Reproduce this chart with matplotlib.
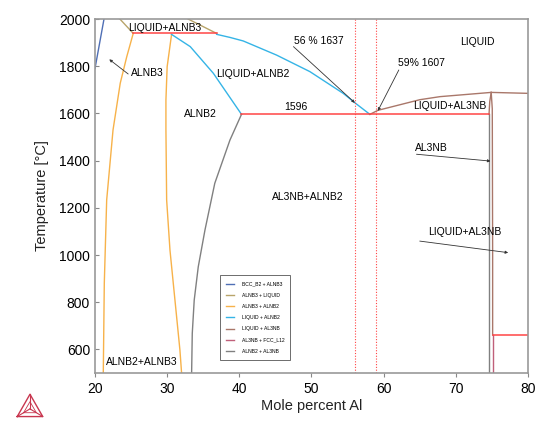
"""Al-Nb phase diagram (Al-rich side), redrawn from a Thermo-Calc export."""
import matplotlib
matplotlib.use("Agg")
import matplotlib.pyplot as plt

plt.rcParams["font.family"] = ["Liberation Sans", "DejaVu Sans"]

# phase boundaries, (mole percent Al, temperature in C)
bcc_alnb3_x = [20.0, 21.25]
bcc_alnb3_y = [1790, 2000]

alnb3_liq_left_x = [23.45, 25.3]
alnb3_liq_left_y = [2000, 1939]
alnb3_liq_right_x = [32.9, 36.85]
alnb3_liq_right_y = [2000, 1939]

alnb3_alnb2_left_x = [25.3, 24.4, 23.5, 22.5, 21.62, 21.29, 21.15]
alnb3_alnb2_left_y = [1939, 1840, 1728, 1530, 1233, 880, 500]
alnb3_alnb2_right_x = [30.6, 30.0, 29.83, 29.83, 29.93, 30.39, 31.08, 31.77, 32.0]
alnb3_alnb2_right_y = [1932, 1798, 1657, 1530, 1233, 1021, 809, 597, 500]

liq_alnb2_solid_x = [30.6, 33.2, 36.4, 40.3]
liq_alnb2_solid_y = [1935, 1883, 1770, 1596]
liq_alnb2_liquidus_x = [36.86, 38.7, 40.54, 45.17, 49.78, 54.39, 56.1, 58.09]
liq_alnb2_liquidus_y = [1935, 1922, 1907, 1847, 1777, 1685, 1643, 1596]

liq_al3nb_x = [58.09, 59.2, 65.0, 67.8, 74.9, 80.0]
liq_al3nb_y = [1596, 1613, 1658, 1671, 1689, 1685]
liq_al3nb_left_x = [74.9, 74.7, 74.6]
liq_al3nb_left_y = [1689, 1650, 1596]
liq_al3nb_right_x = [74.9, 75.05, 75.1, 75.1]
liq_al3nb_right_y = [1689, 1620, 1000, 661]

al3nb_fcc_x = [75.1, 75.1]
al3nb_fcc_y = [661, 500]

alnb2_al3nb_left_x = [40.3, 38.7, 36.6, 35.24, 34.31, 33.75, 33.48, 33.39]
alnb2_al3nb_left_y = [1596, 1487, 1304, 1106, 950, 809, 668, 500]
alnb2_al3nb_right_x = [74.6, 74.6]
alnb2_al3nb_right_y = [1596, 500]

# invariant (three-phase) lines
invariant_x = [(25.3, 36.85), (40.3, 74.6), (75.1, 80.0)]
invariant_t = [1939, 1596, 661]

# marker compositions
marker_x = [56, 59]

legend_labels = ["BCC_B2 + ALNB3", "ALNB3 + LIQUID", "ALNB3 + ALNB2",
                 "LIQUID + ALNB2", "LIQUID + AL3NB", "AL3NB + FCC_L12",
                 "ALNB2 + AL3NB"]

C_BCC = "#4f6fb5"
C_TAN = "#b8a46a"
C_ORANGE = "#f7b24a"
C_LBLUE = "#35b4e6"
C_BROWN = "#a9776a"
C_ROSE = "#c0607a"
C_GRAY = "#808080"
C_RED = "#ff4545"

fig = plt.figure(figsize=(5.5, 4.29), dpi=100)
ax = fig.add_axes([0.1727, 0.1305, 0.7873, 0.8252])

lw = 1.0
h_bcc, = ax.plot(bcc_alnb3_x, bcc_alnb3_y, color=C_BCC, lw=lw)
h_tan, = ax.plot(alnb3_liq_left_x, alnb3_liq_left_y, color=C_TAN, lw=lw)
ax.plot(alnb3_liq_right_x, alnb3_liq_right_y, color=C_TAN, lw=lw)
h_or, = ax.plot(alnb3_alnb2_left_x, alnb3_alnb2_left_y, color=C_ORANGE, lw=lw)
ax.plot(alnb3_alnb2_right_x, alnb3_alnb2_right_y, color=C_ORANGE, lw=lw)
h_lb, = ax.plot(liq_alnb2_solid_x, liq_alnb2_solid_y, color=C_LBLUE, lw=lw)
ax.plot(liq_alnb2_liquidus_x, liq_alnb2_liquidus_y, color=C_LBLUE, lw=lw)
h_br, = ax.plot(liq_al3nb_x, liq_al3nb_y, color=C_BROWN, lw=lw)
ax.plot(liq_al3nb_left_x, liq_al3nb_left_y, color=C_BROWN, lw=lw)
ax.plot(liq_al3nb_right_x, liq_al3nb_right_y, color=C_BROWN, lw=lw)
h_ro, = ax.plot(al3nb_fcc_x, al3nb_fcc_y, color=C_ROSE, lw=lw)
h_gr, = ax.plot(alnb2_al3nb_left_x, alnb2_al3nb_left_y, color=C_GRAY, lw=lw)
ax.plot(alnb2_al3nb_right_x, alnb2_al3nb_right_y, color=C_GRAY, lw=lw)

for (x0, x1), t in zip(invariant_x, invariant_t):
    ax.plot([x0, x1], [t, t], color=C_RED, lw=1.1)

for xm in marker_x:
    ax.axvline(xm, color=C_RED, lw=0.8, ls=(0, (1, 1.5)))

ax.set_xlim(20, 80)
ax.set_ylim(500, 2000)
ax.set_xticks(range(20, 81, 10))
ax.set_yticks(range(600, 2001, 200))
ax.tick_params(labelsize=10, length=3, color="#888888", width=0.8)
ax.tick_params(axis="y", direction="in")
for sp in ax.spines.values():
    sp.set_color("#999999")
    sp.set_linewidth(1.2)
ax.set_xlabel("Mole percent Al", fontsize=10.5, labelpad=2, color="#222222")
ax.set_ylabel("Temperature [°C]", fontsize=10.5, labelpad=7, color="#222222")

# region labels
fs = 7.5
labels = [
    ("LIQUID+ALNB3", 29.6, 1961),
    ("LIQUID+ALNB2", 41.9, 1767),
    ("ALNB2", 34.65, 1597),
    ("1596", 47.85, 1626),
    ("LIQUID", 73.0, 1903),
    ("LIQUID+AL3NB", 69.2, 1633),
    ("AL3NB+ALNB2", 49.5, 1246),
    ("ALNB2+ALNB3", 26.45, 547),
]
for txt, x, y in labels:
    ax.text(x, y, txt, fontsize=fs, ha="center", va="center")

arrow_labels = [
    # text, text x, text y, tail, head
    ("ALNB3", 27.3, 1772, (24.6, 1767), (21.98, 1829)),
    ("56 % 1637", 51.0, 1908, (47.5, 1883), (56.0, 1645)),
    ("59% 1607", 65.3, 1812, (62.1, 1784), (59.2, 1611)),
    ("AL3NB", 66.6, 1452, (64.55, 1427), (74.8, 1398)),
    ("LIQUID+AL3NB", 71.2, 1097, (65.0, 1059), (77.25, 1010)),
]
for txt, tx, ty, tail, head in arrow_labels:
    ax.text(tx, ty, txt, fontsize=fs, ha="center", va="center")
    ax.annotate("", xy=head, xytext=tail,
                arrowprops=dict(arrowstyle="-|>", lw=0.6, color="#333333",
                                mutation_scale=4, shrinkA=0, shrinkB=0))

handles = [h_bcc, h_tan, h_or, h_lb, h_br, h_ro, h_gr]
leg = ax.legend(handles, legend_labels, loc="lower left",
                bbox_to_anchor=(0.289, 0.037), fontsize=3.6,
                handlelength=1.5, handletextpad=1.6, labelspacing=1.25,
                borderpad=1.2, borderaxespad=0, fancybox=False, framealpha=1)
leg.get_frame().set_edgecolor("#555555")
leg.get_frame().set_linewidth(0.6)

# Thermo-Calc style logo
logo = fig.add_axes([0.029, 0.026, 0.051, 0.058])
logo.set_xlim(-0.05, 1.05)
logo.set_ylim(-0.05, 0.92)
logo.axis("off")
lc = "#c8364f"
tri_x = [0, 1, 0.5, 0]
tri_y = [0, 0, 0.87, 0]
logo.plot(tri_x, tri_y, color=lc, lw=1.0)
cx, cy = 0.5, 0.3
for vx, vy in [(0, 0), (1, 0), (0.5, 0.87)]:
    logo.plot([vx, cx], [vy, cy], color=lc, lw=0.8)
logo.plot([0.25, 0.75, 0.5, 0.25], [0.15, 0.15, 0.58, 0.15], color=lc, lw=0.6)

fig.savefig("out.png", dpi=100)
